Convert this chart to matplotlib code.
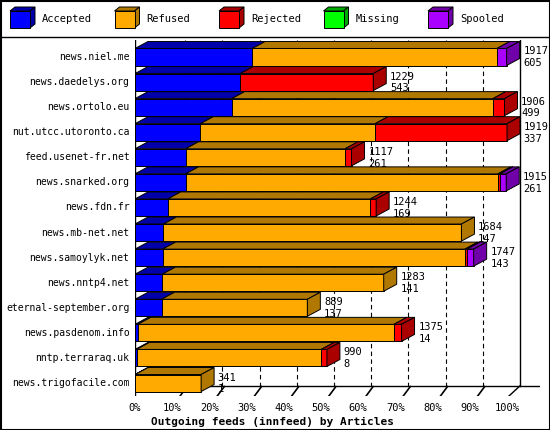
import matplotlib
matplotlib.use("Agg")
import matplotlib.pyplot as plt
from matplotlib.patches import Polygon, Rectangle
import numpy as np

feeds = ["news.niel.me", "news.daedelys.org", "news.ortolo.eu", "nut.utcc.utoronto.ca",
         "feed.usenet-fr.net", "news.snarked.org", "news.fdn.fr", "news.mb-net.net",
         "news.samoylyk.net", "news.nntp4.net", "eternal-september.org", "news.pasdenom.info",
         "nntp.terraraq.uk", "news.trigofacile.com"]
totals   = [1917, 1229, 1906, 1919, 1117, 1915, 1244, 1684, 1747, 1283, 889, 1375, 990, 341]
accepted = [605, 543, 499, 337, 261, 261, 169, 147, 143, 141, 137, 14, 8, 1]
refused  = [1262, 0, 1347, 901, 822, 1611, 1045, 1537, 1559, 1142, 752, 1321, 952, 340]
rejected = [0, 686, 60, 681, 34, 10, 30, 0, 10, 0, 0, 40, 30, 0]
missing  = [0]*14
spooled  = [50, 0, 0, 0, 0, 33, 0, 0, 35, 0, 0, 0, 0, 0]
series_names = ["Accepted", "Refused", "Rejected", "Missing", "Spooled"]
series = [accepted, refused, rejected, missing, spooled]
colors = ["#0000ff", "#ffaa00", "#ff0000", "#00ff00", "#aa00ff"]
dark = ["#0000aa", "#b07800", "#aa0000", "#00aa00", "#7000a8"]
ticks = list(range(0, 101, 10))

W, H = 550, 430
fig = plt.figure(figsize=(W/100, H/100), dpi=100)
fig.patch.set_facecolor("white")
FONT = "DejaVu Sans Mono"

ov = fig.add_axes([0, 0, 1, 1]); ov.set_xlim(0, W); ov.set_ylim(H, 0); ov.axis("off")
ov.add_patch(Rectangle((0.5, 0.5), W-1, H-1, fill=False, lw=1.5, ec="black"))
ov.plot([0, W], [37, 37], color="black", lw=1)
for i, (n, c, d) in enumerate(zip(series_names, colors, dark)):
    x0 = 10 + i*104.5; y0 = 11; w = 20; h = 17; dd = 5
    ov.add_patch(Polygon([(x0, y0), (x0+dd, y0-4), (x0+w+dd, y0-4), (x0+w, y0)], fc=d, ec="black", lw=0.7))
    ov.add_patch(Polygon([(x0+w, y0), (x0+w+dd, y0-4), (x0+w+dd, y0+h-4), (x0+w, y0+h)], fc=d, ec="black", lw=0.7))
    ov.add_patch(Rectangle((x0, y0), w, h, fc=c, ec="black", lw=0.7))
    ov.text(x0+32, y0+h/2, n, fontsize=7.5, family=FONT, va="center", ha="left")

px0, pxs = 135, 3.72
top, bot = 40, 396
ax = fig.add_axes([px0/W, 1-bot/H, (540-px0)/W, (bot-top)/H])
ax.set_xlim(0, (540-px0)/pxs)
r0, rs = 57, 25.08
ax.set_ylim((bot-r0)/rs, (top-r0)/rs)
ax.axis("off")
ax.patch.set_alpha(0)
DX, DY = 13/pxs, 7/rs
hh = 0.34
n = len(feeds)
mx = max(totals)
floor_back = n-1+hh - DY + 0.05
floor_front = n-1+hh+0.25
for t in ticks:
    xx = t + DX
    if t == 100:
        ax.plot([xx, xx], [-0.68, floor_back], color="black", lw=1, zorder=1)
    elif t > 0:
        ax.plot([xx, xx], [-0.68, floor_back], color="black", lw=0.8, ls=(0, (4, 3)), zorder=1)
ax.plot([0, 0], [-0.68, floor_front], color="black", lw=1, zorder=1)
ax.plot([DX, 100+DX+5], [floor_back, floor_back], color="black", lw=1, zorder=1)
ax.plot([-4, 100], [floor_front, floor_front], color="black", lw=1, zorder=1)
ax.plot([100, 100+DX], [floor_front, floor_back], color="black", lw=1, zorder=1)
for t in ticks:
    ax.text(t, floor_front+0.2, f"{t}%", family=FONT, fontsize=7.5, ha="center", va="top")
    if 0 < t < 100:
        ax.plot([t+2, t+4], [floor_front-0.05, floor_back+0.03], color="black", lw=1.2, zorder=1)
ax.text(0.04, -0.06, "Outgoing feeds (innfeed) by Articles", transform=ax.transAxes,
        family=FONT, fontsize=8, fontweight="bold", ha="left", va="top")

for i in range(n):
    y = i
    left = 0.0
    last = 0
    for k, s in enumerate(series):
        w = s[i]/mx*100
        if w <= 0:
            continue
        ax.add_patch(Polygon([(left, y-hh), (left+DX, y-hh-DY), (left+w+DX, y-hh-DY), (left+w, y-hh)],
                             fc=dark[k], ec="black", lw=0.7, zorder=3))
        ax.add_patch(Rectangle((left, y-hh), w, 2*hh, fc=colors[k], ec="black", lw=0.7, zorder=4))
        left += w
        last = k
    ax.add_patch(Polygon([(left, y-hh), (left+DX, y-hh-DY), (left+DX, y+hh-DY), (left, y+hh)],
                         fc=dark[last], ec="black", lw=0.7, zorder=4))
    ax.text(left+DX+1, y-0.22, str(totals[i]), family=FONT, fontsize=7.5, va="center", ha="left", zorder=6)
    ax.text(left+DX+1, y+0.25, str(accepted[i]), family=FONT, fontsize=7.5, va="center", ha="left", zorder=6)
    ax.text(-1.5, y, feeds[i], family=FONT, fontsize=7, va="center", ha="right")

fig.savefig("out.png", dpi=100)
